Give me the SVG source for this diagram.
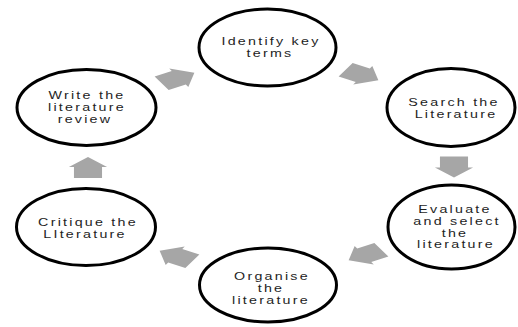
<svg xmlns="http://www.w3.org/2000/svg" width="518" height="327" viewBox="0 0 518 327">
<defs>
<style>
.node{fill:#ffffff;stroke:#000000;stroke-width:3}
.lbl{font-family:"Liberation Sans",Arial,sans-serif;font-size:10.2px;fill:#1e1e1e;text-anchor:middle;letter-spacing:1.6px}
.arr{fill:#a6a6a6;stroke:none}
</style>
<polygon id="blk" points="-10.5,-7.8 0.5,-7.8 0.5,-10.6 10.5,0 0.5,10.6 0.5,7.8 -10.5,7.8"/>
</defs>
<rect x="0" y="0" width="518" height="327" fill="#ffffff"/>
<g id="connectors">
<use href="#blk" class="arr" transform="translate(362,75) scale(1.8,1) rotate(30)"/>
<use href="#blk" class="arr" transform="translate(454,167) scale(1.8,1) rotate(90)"/>
<use href="#blk" class="arr" transform="translate(365,255) scale(1.8,1) rotate(150)"/>
<use href="#blk" class="arr" transform="translate(176,256) scale(1.8,1) rotate(210)"/>
<use href="#blk" class="arr" transform="translate(88,167.5) scale(1.8,1) rotate(270)"/>
<use href="#blk" class="arr" transform="translate(178,78) scale(1.8,1) rotate(330)"/>
</g>
<g id="n1">
<ellipse class="node" cx="267.5" cy="47.5" rx="68.5" ry="38.5"/>
<text class="lbl" transform="translate(271,0) scale(1.4,1)" y="45">Identify key</text>
<text class="lbl" transform="translate(270,0) scale(1.4,1)" y="57.5">terms</text>
</g>
<g id="n2">
<ellipse class="node" cx="451" cy="107.5" rx="64" ry="39"/>
<text class="lbl" transform="translate(454,0) scale(1.4,1)" y="106.5">Search the</text>
<text class="lbl" transform="translate(456,0) scale(1.4,1)" y="118.5">Literature</text>
</g>
<g id="n3">
<ellipse class="node" cx="451.5" cy="227" rx="63.5" ry="42"/>
<text class="lbl" transform="translate(455,0) scale(1.4,1)" y="213">Evaluate</text>
<text class="lbl" transform="translate(457,0) scale(1.4,1)" y="224.8">and select</text>
<text class="lbl" transform="translate(455,0) scale(1.4,1)" y="236.6">the</text>
<text class="lbl" transform="translate(456,0) scale(1.4,1)" y="248.4">literature</text>
</g>
<g id="n4">
<ellipse class="node" cx="268" cy="285" rx="68.5" ry="37"/>
<text class="lbl" transform="translate(272,0) scale(1.4,1)" y="280">Organise</text>
<text class="lbl" transform="translate(271,0) scale(1.4,1)" y="291.8">the</text>
<text class="lbl" transform="translate(271,0) scale(1.4,1)" y="303.6">literature</text>
</g>
<g id="n5">
<ellipse class="node" cx="86" cy="227" rx="69.5" ry="38.5"/>
<text class="lbl" transform="translate(88,0) scale(1.4,1)" y="226">Critique the</text>
<text class="lbl" transform="translate(85,0) scale(1.4,1)" y="238">LIterature</text>
</g>
<g id="n6">
<ellipse class="node" cx="86.5" cy="107.5" rx="69.5" ry="38"/>
<text class="lbl" transform="translate(87,0) scale(1.4,1)" y="99.5">Write the</text>
<text class="lbl" transform="translate(87,0) scale(1.4,1)" y="111.3">literature</text>
<text class="lbl" transform="translate(85,0) scale(1.4,1)" y="123.1">review</text>
</g>
</svg>
